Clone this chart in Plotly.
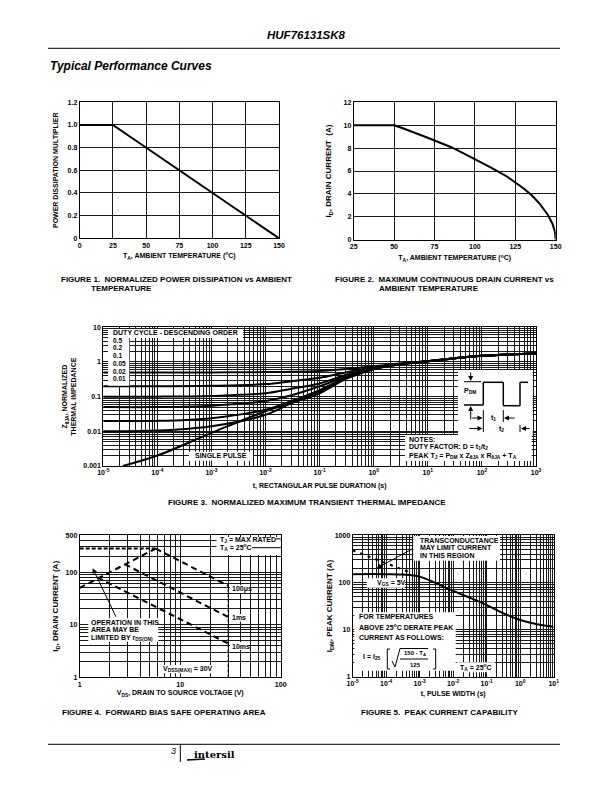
import plotly.graph_objects as go

# figure 1
fig1_temp = [0, 25, 150]
fig1_mult = [1.0, 1.0, 0.0]
fig1_xticks = [0, 25, 50, 75, 100, 125, 150]
fig1_yticks = [0, 0.2, 0.4, 0.6, 0.8, 1.0, 1.2]
fig1_ylabels = ["0", "0.2", "0.4", "0.6", "0.8", "1.0", "1.2"]

# figure 2
fig2_temp = [25, 50, 55, 60, 65, 70, 75, 80, 85, 90, 95, 100, 105, 110, 115, 120, 125, 130, 135, 140, 145, 148, 149.5, 150]
fig2_id = [10, 10, 9.75, 9.5, 9.2, 8.95, 8.66, 8.4, 8.1, 7.75, 7.4, 7.07, 6.7, 6.3, 5.9, 5.5, 5.0, 4.5, 3.9, 3.15, 2.2, 1.4, 0.7, 0]
fig2_xticks = [25, 50, 75, 100, 125, 150]
fig2_yticks = [0, 2, 4, 6, 8, 10, 12]

# figure 3
fig3_t = [1e-5, 1e-4, 1e-3, 1e-2, 3e-2, 1e-1, 3e-1, 1, 3, 10, 100, 1000]
fig3_d50 = [0.5, 0.5, 0.5, 0.51, 0.52, 0.55, 0.63, 0.75, 0.9, 1.05, 1.5, 1.75]
fig3_d20 = [0.2, 0.2, 0.205, 0.23, 0.28, 0.35, 0.5, 0.7, 0.88, 1.05, 1.5, 1.75]
fig3_d10 = [0.1, 0.1, 0.105, 0.125, 0.17, 0.24, 0.42, 0.67, 0.87, 1.05, 1.5, 1.75]
fig3_d05 = [0.05, 0.05, 0.055, 0.075, 0.11, 0.2, 0.38, 0.65, 0.86, 1.05, 1.5, 1.75]
fig3_d02 = [0.02, 0.02, 0.024, 0.042, 0.075, 0.155, 0.35, 0.64, 0.85, 1.05, 1.5, 1.75]
fig3_d01 = [0.01, 0.0105, 0.014, 0.03, 0.065, 0.14, 0.33, 0.63, 0.85, 1.05, 1.5, 1.75]
fig3_single_t = [2.3e-5, 1e-4, 1e-3, 1e-2, 3e-2, 1e-1, 3e-1, 1, 3, 10, 100, 1000]
fig3_single = [0.001, 0.002, 0.009, 0.038, 0.065, 0.125, 0.32, 0.62, 0.85, 1.05, 1.5, 1.75]
fig3_xticks = [1e-5, 1e-4, 1e-3, 1e-2, 1e-1, 1, 10, 100, 1000]
fig3_xlabels = ["10<sup>-5</sup>", "10<sup>-4</sup>", "10<sup>-3</sup>", "10<sup>-2</sup>", "10<sup>-1</sup>",
                "10<sup>0</sup>", "10<sup>1</sup>", "10<sup>2</sup>", "10<sup>3</sup>"]
fig3_yticks = [0.001, 0.01, 0.1, 1, 10]
fig3_ylabels = ["0.001", "0.01", "0.1", "1", "10"]
duty_labels = ["0.5", "0.2", "0.1", "0.05", "0.02", "0.01"]

# figure 4
fig4_limit_v = [1, 5.7]
fig4_limit_i = [280, 280]
fig4_rds_v = [1, 5.7]
fig4_rds_i = [50, 280]
fig4_100us_v = [5.7, 30]
fig4_100us_i = [280, 55]
fig4_1ms_v = [2.8, 30]
fig4_1ms_i = [141, 14]
fig4_10ms_v = [1.5, 30]
fig4_10ms_i = [79, 4.4]
fig4_vdss_v = [30, 30]
fig4_vdss_i = [1, 55]
fig4_xticks = [1, 10, 100]
fig4_yticks = [1, 10, 100, 500]

# figure 5
fig5_t = [1e-5, 1e-4, 3.2e-4, 1e-3, 3.2e-3, 1e-2, 3.2e-2, 1e-1, 3.2e-1, 1, 3.2, 10]
fig5_idm = [150, 150, 147, 133, 95, 66, 47, 33, 22, 16, 13, 11.5]
fig5_gm_t = [1e-5, 5.8e-4]
fig5_gm_i = [480, 158]
fig5_xticks = [1e-5, 1e-4, 1e-3, 1e-2, 1e-1, 1, 10]
fig5_xlabels = ["10<sup>-5</sup>", "10<sup>-4</sup>", "10<sup>-3</sup>", "10<sup>-2</sup>", "10<sup>-1</sup>",
                "10<sup>0</sup>", "10<sup>1</sup>"]
fig5_yticks = [1, 10, 100, 1000]

FONT = "Liberation Sans"
W, H = 612, 792
GRID = "#1a1a1a"


def X(px):
    return px / W


def Y(py):
    return 1 - py / H


def minor_decades(first, last):
    return [m * 10.0 ** e for e in range(first, last) for m in range(2, 10)]


def axis(left, right, anchor, title, tickvals, ticktext=None, log=False, minor=None, rng=None, standoff=3, title_size=7):
    ax = dict(
        domain=[left, right], anchor=anchor, range=rng, tickmode="array", tickvals=tickvals, automargin=False,
        showgrid=True, gridcolor=GRID, gridwidth=1, zeroline=False,
        showline=True, mirror=True, linecolor="black", linewidth=1, ticks="",
        tickfont=dict(family=FONT, size=7, color="black", weight="bold"),
        title=dict(text=title, font=dict(family=FONT, size=title_size, color="black", weight="bold"), standoff=standoff),
    )
    if ticktext is not None:
        ax["ticktext"] = ticktext
    if log:
        ax["type"] = "log"
    if minor is not None:
        ax["minor"] = dict(tickmode="array", tickvals=minor, showgrid=True, gridcolor=GRID, gridwidth=1, ticks="")
    return ax


fig = go.Figure()


def curve(x, y, n, width=2, dash="solid", name=None, smooth=False):
    sub = "" if n == 1 else str(n)
    line = dict(color="black", width=width, dash=dash)
    if smooth:
        line["shape"] = "spline"
    fig.add_trace(go.Scatter(x=x, y=y, mode="lines", xaxis="x" + sub, yaxis="y" + sub, name=name,
                             line=line, showlegend=False))


curve(fig1_temp, fig1_mult, 1)
curve(fig2_temp, fig2_id, 2)
for series in [fig3_d50, fig3_d20, fig3_d10, fig3_d05, fig3_d02, fig3_d01]:
    curve(fig3_t, series, 3, smooth=True)
curve(fig3_single_t, fig3_single, 3, smooth=True)
curve(fig4_limit_v, fig4_limit_i, 4, dash="4px,2px")
curve(fig4_rds_v, fig4_rds_i, 4, dash="6px,4px")
curve(fig4_100us_v, fig4_100us_i, 4, dash="6px,4px")
curve(fig4_1ms_v, fig4_1ms_i, 4, dash="6px,4px")
curve(fig4_10ms_v, fig4_10ms_i, 4, dash="6px,4px")
curve(fig4_vdss_v, fig4_vdss_i, 4, width=1, dash="3px,2px")
curve(fig5_t, fig5_idm, 5, smooth=True)
curve(fig5_gm_t, fig5_gm_i, 5, dash="3px,5px")

layout_axes = dict(
    xaxis=axis(X(79.7), X(279), "y", "T<sub>A</sub>, AMBIENT TEMPERATURE (<sup>o</sup>C)", fig1_xticks, rng=[0, 150], standoff=5),
    yaxis=axis(Y(238.3), Y(102.3), "x", "POWER DISSIPATION MULTIPLIER", fig1_yticks, fig1_ylabels, rng=[0, 1.2], standoff=8),
    xaxis2=axis(X(353.7), X(555.7), "y2", "T<sub>A</sub>, AMBIENT TEMPERATURE (<sup>o</sup>C)", fig2_xticks, rng=[25, 150], standoff=6),
    yaxis2=axis(Y(239.7), Y(102.3), "x2", "I<sub>D</sub>, DRAIN CURRENT  (A)", fig2_yticks, rng=[0, 12], standoff=10, title_size=8),
    xaxis3=axis(X(103.3), X(536), "y3", "t, RECTANGULAR PULSE DURATION (s)", fig3_xticks, fig3_xlabels, True,
                minor_decades(-5, 3), [-5, 3], standoff=7),
    yaxis3=axis(Y(466), Y(327.3), "x3", "Z<sub>θJA</sub>, NORMALIZED<br>THERMAL IMPEDANCE", fig3_yticks, fig3_ylabels, True,
                minor_decades(-3, 1), [-3, 1], standoff=5),
    xaxis4=axis(X(79.7), X(280.7), "y4", "V<sub>DS</sub>, DRAIN TO SOURCE VOLTAGE (V)", fig4_xticks, None, True,
                minor_decades(0, 2), [0, 2], standoff=3),
    yaxis4=axis(Y(677.3), Y(535.3), "x4", "I<sub>D</sub>, DRAIN CURRENT (A)", fig4_yticks, None, True,
                minor_decades(0, 2) + [200, 300, 400], [0, 2.69897], standoff=5, title_size=8),
    xaxis5=axis(X(352.7), X(553.7), "y5", "t, PULSE WIDTH (s)", fig5_xticks, fig5_xlabels, True,
                minor_decades(-5, 1), [-5, 1], standoff=5),
    yaxis5=axis(Y(676.7), Y(535.3), "x5", "I<sub>DM</sub>, PEAK CURRENT (A)", fig5_yticks, None, True,
                minor_decades(0, 3), [0, 3], standoff=0, title_size=8),
)

shapes = []
notes = []


def box(x0, y0, x1, y1):
    shapes.append(dict(type="rect", xref="paper", yref="paper", x0=X(x0), x1=X(x1), y0=Y(y0), y1=Y(y1),
                       fillcolor="white", line=dict(width=0), layer="above"))


def seg(x0, y0, x1, y1, width=1):
    shapes.append(dict(type="line", xref="paper", yref="paper", x0=X(x0), x1=X(x1), y0=Y(y0), y1=Y(y1),
                       line=dict(color="black", width=width), layer="above"))


def note(x, y, text, size=7, anchor="left", bold=True, italic=False, family=FONT):
    # annotations carry a little padding, pull left-aligned ones back
    px = x - 1.5 if anchor == "left" else x
    notes.append(dict(xref="paper", yref="paper", x=X(px), y=Y(y), text=text, showarrow=False, xanchor=anchor,
                      yanchor="middle", align=anchor,
                      font=dict(family=family, size=size, color="black", weight="bold" if bold else "normal",
                                style="italic" if italic else "normal")))


def arrow(x_head, y_head, x_tail, y_tail):
    notes.append(dict(xref="paper", yref="paper", x=X(x_head), y=Y(y_head), ax=x_tail - x_head, ay=y_tail - y_head,
                      text="", showarrow=True, arrowhead=2, arrowsize=1, arrowwidth=1, arrowcolor="black"))


# white label boxes sit over grid and curves
box(108, 329, 243, 338)
box(108, 338, 129.3, 385.7)
box(189, 451.7, 253, 460.7)
box(405, 435, 531.7, 461)
box(458, 370, 532.7, 435)

box(216.5, 537, 280.7, 555)
seg(276, 538.8, 280.7, 538.8)
seg(252, 547.7, 280.7, 547.7)
box(230, 585, 250, 593)
box(230, 614, 245, 621.5)
box(230, 642, 248, 650)
box(88.3, 618.3, 158.3, 641.7)
box(159.3, 665, 218.3, 673.3)

box(413.3, 536, 500, 560.7)
box(366.7, 578.3, 405, 587.7)
box(354.3, 612.3, 455.7, 670.7)
box(456.7, 662.3, 495, 672.3)

# page furniture
seg(48, 48.3, 560, 48.3)
seg(48, 744.3, 560, 744.3)
seg(180.3, 744.3, 180.3, 762)
note(306, 34.5, "HUF76131SK8", size=11.5, anchor="center", italic=True)
note(49, 65.5, "Typical Performance Curves", size=12, italic=True)
note(170, 751, "3", size=9, bold=False, italic=True)
note(193, 754, "intersil", size=10, family="DejaVu Serif")
seg(187, 760, 205, 759, 1.5)

# captions
note(60, 279, "FIGURE 1.  NORMALIZED POWER DISSIPATION vs AMBIENT", 8)
note(90.7, 288.7, "TEMPERATURE", 8)
note(335, 279, "FIGURE 2.  MAXIMUM CONTINUOUS DRAIN CURRENT vs", 8)
note(378, 288.7, "AMBIENT TEMPERATURE", 8)
note(306.5, 502, "FIGURE 3.  NORMALIZED MAXIMUM TRANSIENT THERMAL IMPEDANCE", 8, "center")
note(61.7, 712, "FIGURE 4.  FORWARD BIAS SAFE OPERATING AREA", 8)
note(360, 712, "FIGURE 5.  PEAK CURRENT CAPABILITY", 8)

# figure 3 labels
note(112, 332.8, "DUTY CYCLE - DESCENDING ORDER", 7)
for label, py in zip(duty_labels, [340, 347.5, 355, 363.3, 371, 378.3]):
    note(112, py, label, 6.5)
note(194, 455.5, "SINGLE PULSE", 7)
note(408, 439, "NOTES:", 7)
note(408, 447, "DUTY FACTOR: D = t<sub>1</sub>/t<sub>2</sub>", 7)
note(408, 456, "PEAK T<sub>J</sub> = P<sub>DM</sub> x Z<sub>θJA</sub> x R<sub>θJA</sub> + T<sub>A</sub>", 7)
note(463.5, 391, "P<sub>DM</sub>", 7)
note(493, 418, "t<sub>1</sub>", 7, "center")
note(501, 429, "t<sub>2</sub>", 7, "center")
# pulse inset
seg(464, 405, 483.3, 405, 1.5)
seg(483.3, 405, 483.3, 382.3, 1.5)
seg(483.3, 382.3, 503.3, 382.3, 1.5)
seg(503.3, 382.3, 503.3, 405.7, 1.5)
seg(503.3, 405.7, 520, 405.7, 1.5)
seg(520, 405.7, 520, 382.3, 1.5)
seg(520, 382.3, 528, 382.3, 1.5)
seg(464, 381.7, 481, 381.7)
seg(483.3, 410, 483.3, 432)
seg(503.3, 410, 503.3, 422)
seg(520, 425, 520, 432)
arrow(470.7, 381, 470.7, 371)
arrow(470.7, 406, 470.7, 421)
arrow(482.5, 418, 470.7, 418)
arrow(504, 418, 516, 418)
arrow(482.5, 428.5, 468, 428.5)
arrow(521, 428.5, 531, 428.5)

# figure 4 labels
note(219, 539.5, "T<sub>J</sub> = MAX RATED", 7)
note(219, 547.5, "T<sub>A</sub> = 25<sup>o</sup>C", 7)
note(231, 589, "100μs", 7)
note(231, 617.5, "1ms", 7)
note(231, 646, "10ms", 7)
note(90, 622, "OPERATION IN THIS", 7)
note(90, 629.5, "AREA MAY BE", 7)
note(90, 638, "LIMITED BY r<sub>DS(ON)</sub>", 7)
note(162, 669, "V<sub>DSS(MAX)</sub> = 30V", 7)
arrow(92.7, 568.3, 116.7, 618.3)

# figure 5 labels
note(419.5, 540, "TRANSCONDUCTANCE", 7)
note(419.5, 547.5, "MAY LIMIT CURRENT", 7)
note(419.5, 555.5, "IN THIS REGION", 7)
note(376, 583, "V<sub>GS</sub> = 5V", 7)
note(358, 616.5, "FOR TEMPERATURES", 7)
note(358, 626.5, "ABOVE 25<sup>o</sup>C DERATE PEAK", 7)
note(358, 637, "CURRENT AS FOLLOWS:", 7)
note(362, 656.5, "I = I<sub>25</sub>", 7)
note(415, 653, "150 - T<sub>A</sub>", 6, "center")
note(415, 665, "125", 6, "center")
note(459, 667, "T<sub>A</sub> = 25<sup>o</sup>C", 7)
arrow(376.7, 568.3, 413.3, 548.3)
# bracket and root
seg(387.3, 649, 387.3, 669)
seg(387.3, 649, 390, 649)
seg(387.3, 669, 390, 669)
seg(435.7, 649, 435.7, 669)
seg(433, 649, 435.7, 649)
seg(433, 669, 435.7, 669)
seg(392, 661, 395, 667)
seg(395, 667, 400, 648.5)
seg(400, 648.5, 428, 648.5)
seg(400, 659, 428, 659)

fig.update_layout(
    width=W, height=H, margin=dict(l=0, r=0, t=0, b=0), paper_bgcolor="white", plot_bgcolor="white",
    showlegend=False, shapes=shapes, annotations=notes, **layout_axes,
)

fig.write_html("out.html", config={"displayModeBar": False}, post_script="document.body.style.margin='0';")
